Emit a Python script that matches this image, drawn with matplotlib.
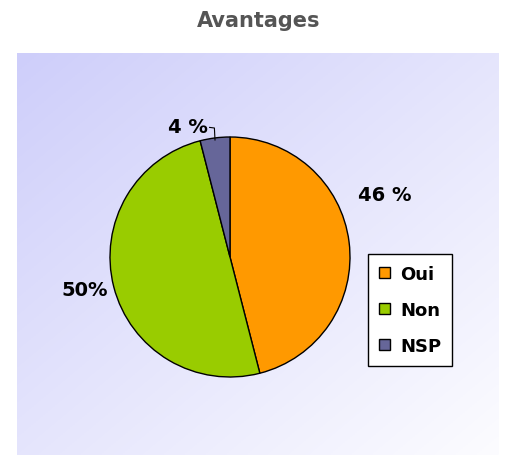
import matplotlib.pyplot as plt
import numpy as np

plt.rcParams['font.family'] = ['DejaVu Sans']

categories = ['Oui', 'Non', 'NSP']
values = [46, 50, 4]
labels = ['46 %', '50%', '4 %']
colors = ['#FF9900', '#99CC00', '#666699']

W, H = 509, 456
fig = plt.figure(figsize=(W / 100, H / 100), dpi=100)

# gradient background of the plot area (dark top-left -> light bottom-right)
bg = fig.add_axes([17 / W, 0, (499 - 17) / W, (H - 54) / H])
xx, yy = np.meshgrid(np.linspace(0, 1, 200), np.linspace(0, 1, 200))
t = np.clip((xx + yy) / 2, 0, 1)
c0 = np.array([206, 206, 250]) / 255
c1 = np.array([252, 252, 255]) / 255
img = c0[None, None, :] * (1 - t[..., None]) + c1[None, None, :] * t[..., None]
bg.imshow(img, aspect='auto', extent=[0, 1, 0, 1])
bg.axis('off')

fig.text(259 / W, 1 - 21 / H, 'Avantages', ha='center', va='center',
         fontsize=15, fontweight='bold', color='#555555')

# pie: center (230, 258) px, radius 120 px
cx, cy, r = 230, 258, 120
ax = fig.add_axes([(cx - r) / W, (H - cy - r) / H, 2 * r / W, 2 * r / H])
wedges, _ = ax.pie(values, colors=colors, startangle=90, counterclock=False,
                   radius=1, wedgeprops=dict(edgecolor='black', linewidth=1))
ax.set_xlim(-1, 1)
ax.set_ylim(-1, 1)
ax.set_axis_off()

label_pos = [(1.29, 0.52), (-1.21, -0.27), (-0.35, 1.09)]
for lab, (x, y) in zip(labels, label_pos):
    ax.text(x, y, lab, ha='center', va='center', fontsize=14,
            fontweight='bold', color='black', clip_on=False)
ax.plot([-0.17, -0.13, -0.125], [1.08, 1.075, 0.975], color='black',
        linewidth=0.8, clip_on=False)

leg = fig.legend(wedges, categories, loc='upper left',
                 bbox_to_anchor=(368 / W, 1 - 255 / H), frameon=True,
                 fancybox=False, edgecolor='black', framealpha=1,
                 prop=dict(size=13, weight='bold'), labelspacing=1.0,
                 handlelength=0.6, handleheight=0.6, handletextpad=0.6,
                 borderpad=0.6, borderaxespad=0)
leg.get_frame().set_linewidth(1)

fig.savefig('out.png', dpi=100)
